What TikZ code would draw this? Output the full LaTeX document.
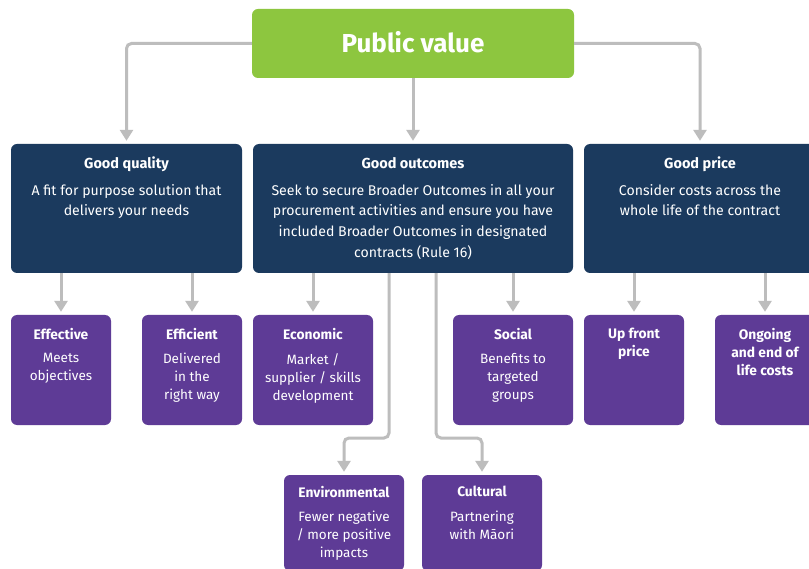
\documentclass[tikz,border=0pt]{standalone}
\usepackage{fontspec}
\setmainfont{Fira Sans}
\usetikzlibrary{arrows.meta,calc}
\definecolor{navy}{HTML}{1B3A5E}
\definecolor{purp}{HTML}{5E3B96}
\definecolor{grn}{HTML}{8DC63F}
\definecolor{conn}{HTML}{BDBDBD}
\tikzset{
  box/.style={rounded corners=6pt, inner sep=0pt, draw=none},
  navybox/.style={box, fill=navy, minimum height=129pt},
  purpbox/.style={box, fill=purp, minimum width=100pt, minimum height=110pt},
  greenbox/.style={box, fill=grn},
  bigtitle/.style={text=white, font=\fontsize{14.5}{17}\selectfont\bfseries, anchor=base, inner sep=0pt},
  bigbody/.style={text=white, font=\fontsize{14.1}{20.8}\selectfont, anchor=north, inner sep=0pt, align=center},
  smtitle/.style={text=white, font=\fontsize{13.8}{18}\selectfont\bfseries, anchor=north, inner sep=0pt, align=center},
  smbody/.style={text=white, font=\fontsize{13.5}{18}\selectfont, anchor=north, inner sep=0pt, align=center},
  conn/.style={draw=conn, line width=3pt, rounded corners=5pt, -{Triangle[width=13pt,length=11pt]}, shorten >=3pt},
}
\begin{document}
\begin{tikzpicture}[x=1pt,y=-1pt]
\useasboundingbox (0,0) rectangle (809,569);
\clip (0,0) rectangle (809,569);
\fill[white] (0,0) rectangle (809,569);

% top
\node[greenbox, minimum width=322pt, minimum height=69pt] (pv) at (413,43.5) {};
\node[text=white, font=\fontsize{26}{30}\selectfont\bfseries, anchor=base, inner sep=0pt] (pvt) at (413,53) {Public value};

% second row
\node[navybox, minimum width=231pt] (gq) at (126.5,208.5) {};
\node[navybox, minimum width=320pt] (go) at (413,208.5) {};
\node[navybox, minimum width=232pt] (gp) at (700,208.5) {};

\node[bigtitle] (gqt) at (126.5,168.5) {Good quality};
\node[bigbody] (gqb) at (126.5,184) {A fit for purpose solution that\\delivers your needs};
\node[bigtitle] (got) at (413,168.5) {Good outcomes};
\node[bigbody] (gob) at (413,184) {Seek to secure Broader Outcomes in all your\\procurement activities and ensure you have\\included Broader Outcomes in designated\\contracts (Rule 16)};
\node[bigtitle] (gpt) at (700,168.5) {Good price};
\node[bigbody] (gpb) at (700,184) {Consider costs across the\\whole life of the contract};

% third row
\node[purpbox] (eff) at (61,370) {};
\node[purpbox] (efc) at (192,370) {};
\node[purpbox, minimum width=120pt] (eco) at (313,370) {};
\node[purpbox, minimum width=120pt] (soc) at (513,370) {};
\node[purpbox] (upf) at (634,370) {};
\node[purpbox] (ong) at (765,370) {};

\node[smtitle] (efft) at (61,328) {Effective};
\node[smbody] (effb) at (61,353) {Meets\\objectives};
\node[smtitle] (efct) at (192,328) {Efficient};
\node[smbody] (efcb) at (192,353) {Delivered\\in the\\right way};
\node[smtitle] (ecot) at (313,328) {Economic};
\node[smbody] (ecob) at (313,353) {Market /\\supplier / skills\\development};
\node[smtitle] (soct) at (513,328) {Social};
\node[smbody] (socb) at (513,353) {Benefits to\\targeted\\groups};
\node[smtitle] (upft) at (634,328) {Up front\\price};
\node[smtitle] (ongt) at (765,328) {Ongoing\\and end of\\life costs};

% fourth row
\node[purpbox, minimum width=120pt, minimum height=96pt] (env) at (344,523) {};
\node[purpbox, minimum width=120pt, minimum height=96pt] (cul) at (482,523) {};
\node[smtitle] (envt) at (344,486) {Environmental};
\node[smbody] (envb) at (344,511) {Fewer negative\\/ more positive\\impacts};
\node[smtitle] (cult) at (482,486) {Cultural};
\node[smbody] (culb) at (482,511) {Partnering\\with Māori};

% connectors
\draw[conn] (pv.west) -| (gq.north);
\draw[conn] (pv.south) -- (go.north);
\draw[conn] (pv.east) -| (gp.north);

\draw[conn] (eff.north |- gq.south) -- (eff.north);
\draw[conn] (efc.north |- gq.south) -- (efc.north);
\draw[conn] (eco.north |- go.south) -- (eco.north);
\draw[conn] (soc.north |- go.south) -- (soc.north);
\draw[conn] (upf.north |- gp.south) -- (upf.north);
\draw[conn] (ong.north |- gp.south) -- (ong.north);

\coordinate (envturn) at (389,438);
\coordinate (culturn) at (436,438);
\draw[conn] (go.south -| envturn) -- (envturn) -| (env.north);
\draw[conn] (go.south -| culturn) -- (culturn) -| (cul.north);
\end{tikzpicture}
\end{document}
